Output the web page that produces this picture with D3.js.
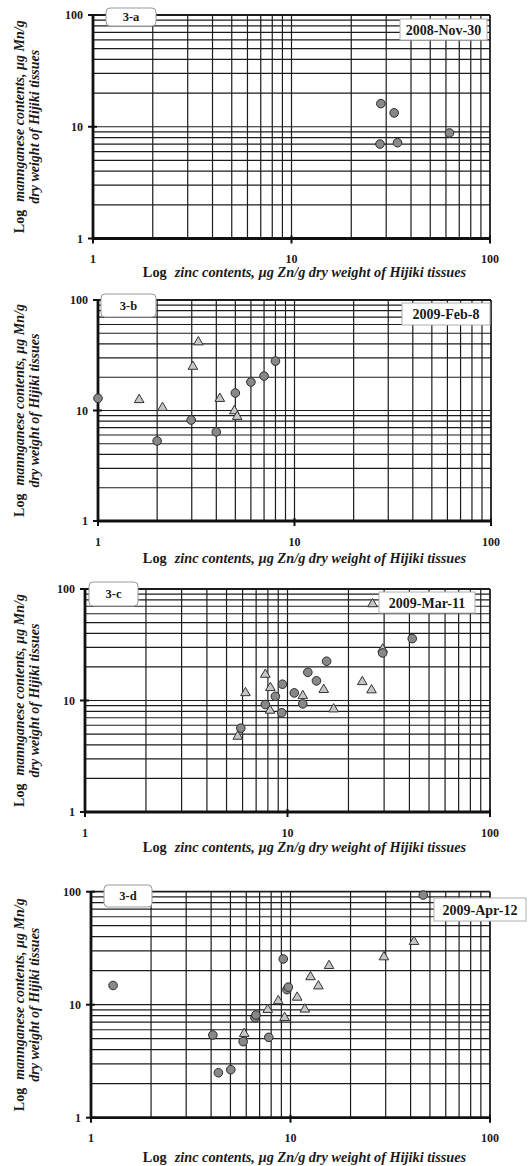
<!DOCTYPE html>
<html lang="en">
<head>
<meta charset="UTF-8">
<title>Hijiki Zn vs Mn</title>
<style>
  body { margin: 0; background: #fff; }
  text { font-family: "Liberation Serif", "Times New Roman", serif; font-weight: bold; }
</style>
</head>
<body>
<script src="https://cdn.jsdelivr.net/npm/d3@7"></script>
<script>
const panelNames = ["3-a", "3-b", "3-c", "3-d"];
const panelDates = ["2008-Nov-30", "2009-Feb-8", "2009-Mar-11", "2009-Apr-12"];
const tickValues = [1, 10, 100];

// circles: zinc (x) and manganese (y), ug/g dry weight
const circZnA = [28.2, 32.9, 27.9, 34.2, 62.5];
const circMnA = [16.1, 13.3, 7.0, 7.2, 8.8];
const triZnA = [];
const triMnA = [];

const circZnB = [1.0, 2.0, 2.98, 4.0, 5.0, 6.0, 7.0, 8.0];
const circMnB = [12.9, 5.3, 8.2, 6.4, 14.4, 18.1, 20.5, 28.0];
const triZnB = [1.62, 2.13, 3.04, 3.24, 4.17, 4.94, 5.11];
const triMnB = [12.5, 10.6, 25.0, 41.6, 12.8, 9.9, 8.8];

const circZnC = [5.88, 7.77, 8.71, 9.44, 9.37, 10.8, 11.9, 12.6, 13.9, 15.6, 29.5, 41.3];
const circMnC = [5.65, 9.2, 10.9, 14.0, 7.76, 11.7, 9.33, 17.9, 15.0, 22.5, 26.7, 35.9];
const triZnC = [5.68, 6.2, 7.77, 8.23, 8.2, 11.9, 15.1, 16.9, 23.4, 26.0, 29.5, 26.3];
const triMnC = [4.76, 11.7, 17.1, 13.0, 8.14, 11.0, 12.5, 8.37, 14.7, 12.4, 28.8, 73.4];

const circZnD = [1.29, 4.08, 4.35, 5.02, 5.79, 6.64, 6.71, 7.78, 9.2, 9.6, 9.75, 46.3];
const circMnD = [14.8, 5.39, 2.5, 2.66, 4.71, 7.67, 8.1, 5.14, 25.4, 13.6, 14.3, 93.4];
const triZnD = [5.86, 7.69, 8.68, 9.34, 10.8, 11.8, 12.6, 13.8, 15.6, 29.4, 41.6];
const triMnD = [5.54, 9.03, 10.8, 7.67, 11.6, 9.1, 17.6, 14.6, 22.1, 26.4, 36.1];

const circZn = [circZnA, circZnB, circZnC, circZnD];
const circMn = [circMnA, circMnB, circMnC, circMnD];
const triZn = [triZnA, triZnB, triZnC, triZnD];
const triMn = [triMnA, triMnB, triMnC, triMnD];

// frame of each panel on the page
const frames = [
    {x0: 93, x1: 490, y0: 15, y1: 238.5, titleY: 277, tag: [106, 8, 50, 18], date: [400, 19, 87, 21]},
    {x0: 98, x1: 491, y0: 300, y1: 521, titleY: 563, tag: [101, 294, 55, 23], date: [402, 303, 88, 22]},
    {x0: 85, x1: 490, y0: 589, y1: 812, titleY: 852, tag: [89, 582, 49, 24], date: [379, 592, 96, 21]},
    {x0: 91, x1: 490, y0: 891.7, y1: 1117.7, titleY: 1162, tag: [104, 885, 48, 22], date: [434, 898, 92, 23]}
];

const width = 529, height = 1166;

const svg = d3.select("body").append("svg")
    .attr("width", width)
    .attr("height", height)
    .style("background", "#fff");

frames.forEach((f, i) => drawPanel(f, i));

function drawPanel(f, i) {
    const x = d3.scaleLog().domain([1, 100]).range([f.x0, f.x1]);
    const y = d3.scaleLog().domain([1, 100]).range([f.y1, f.y0]);
    const g = svg.append("g");

    // grid
    g.append("g").selectAll("line")
        .data(x.ticks())
        .join("line")
        .attr("x1", d => x(d)).attr("x2", d => x(d))
        .attr("y1", f.y0).attr("y2", f.y1)
        .attr("stroke", "#1c1c1c")
        .attr("stroke-width", d => d === 100 ? 1.8 : 1.2);

    g.append("g").selectAll("line")
        .data(y.ticks())
        .join("line")
        .attr("y1", d => y(d)).attr("y2", d => y(d))
        .attr("x1", f.x0).attr("x2", f.x1)
        .attr("stroke", "#1c1c1c")
        .attr("stroke-width", d => d === 100 ? 1.8 : 1.2);

    // main axes
    g.append("line")
        .attr("x1", f.x0).attr("x2", f.x0).attr("y1", f.y0).attr("y2", f.y1 + 1)
        .attr("stroke", "#111").attr("stroke-width", 2.8);
    g.append("line")
        .attr("x1", f.x0 - 1).attr("x2", f.x1).attr("y1", f.y1).attr("y2", f.y1)
        .attr("stroke", "#111").attr("stroke-width", 2.8);

    // major ticks crossing the axes
    g.append("g").selectAll("line")
        .data(tickValues)
        .join("line")
        .attr("x1", f.x0 - 5).attr("x2", f.x0 + 4)
        .attr("y1", d => y(d)).attr("y2", d => y(d))
        .attr("stroke", "#111").attr("stroke-width", 2);
    g.append("g").selectAll("line")
        .data(tickValues)
        .join("line")
        .attr("x1", d => x(d)).attr("x2", d => x(d))
        .attr("y1", f.y1 - 3).attr("y2", f.y1 + 5)
        .attr("stroke", "#111").attr("stroke-width", 2);

    // tick labels
    g.append("g").selectAll("text")
        .data(tickValues)
        .join("text")
        .attr("x", f.x0 - 10)
        .attr("y", d => y(d))
        .attr("dy", "0.35em")
        .attr("text-anchor", "end")
        .attr("font-size", 12)
        .attr("fill", "#1a1a1a")
        .text(d => d);
    g.append("g").selectAll("text")
        .data(tickValues)
        .join("text")
        .attr("x", d => x(d))
        .attr("y", f.y1 + 24.5)
        .attr("text-anchor", "middle")
        .attr("font-size", 12)
        .attr("fill", "#1a1a1a")
        .text(d => d);

    // panel tag box
    g.append("rect")
        .attr("x", f.tag[0]).attr("y", f.tag[1])
        .attr("width", f.tag[2]).attr("height", f.tag[3])
        .attr("rx", 4)
        .attr("fill", "#fff").attr("stroke", "#9a9a9a").attr("stroke-width", 1);
    g.append("text")
        .attr("x", f.tag[0] + f.tag[2] / 2)
        .attr("y", f.tag[1] + f.tag[3] / 2)
        .attr("dy", "0.35em")
        .attr("text-anchor", "middle")
        .attr("font-size", 12.5)
        .attr("fill", "#1a1a1a")
        .text(panelNames[i]);

    // date box
    g.append("rect")
        .attr("x", f.date[0]).attr("y", f.date[1])
        .attr("width", f.date[2]).attr("height", f.date[3])
        .attr("fill", "#fff").attr("stroke", "#b0b0b0").attr("stroke-width", 1);
    g.append("text")
        .attr("x", f.date[0] + f.date[2] / 2)
        .attr("y", f.date[1] + f.date[3] / 2)
        .attr("dy", "0.36em")
        .attr("text-anchor", "middle")
        .attr("font-size", 14)
        .attr("fill", "#1a1a1a")
        .text(panelDates[i]);

    // triangles under circles
    const tri = d3.symbol().type(d3.symbolTriangle).size(40);
    g.append("g").selectAll("path")
        .data(triZn[i].map((v, k) => [v, triMn[i][k]]))
        .join("path")
        .attr("d", tri)
        .attr("transform", d => `translate(${x(d[0])},${y(d[1])})`)
        .attr("fill", "#c6c6c6")
        .attr("stroke", "#333")
        .attr("stroke-width", 1);

    g.append("g").selectAll("circle")
        .data(circZn[i].map((v, k) => [v, circMn[i][k]]))
        .join("circle")
        .attr("cx", d => x(d[0]))
        .attr("cy", d => y(d[1]))
        .attr("r", 4.3)
        .attr("fill", "#888")
        .attr("stroke", "#2b2b2b")
        .attr("stroke-width", 1);

    // axis titles
    const xt = g.append("text")
        .attr("x", 304.5)
        .attr("y", f.titleY)
        .attr("text-anchor", "middle")
        .attr("font-size", 14.3)
        .attr("fill", "#1a1a1a");
    xt.append("tspan").text("Log");
    xt.append("tspan").attr("dx", 8).attr("font-style", "italic")
        .text("zinc contents, µg Zn/g dry weight of Hijiki tissues");

    const cy = (f.y0 + f.y1) / 2;
    const yt = g.append("text")
        .attr("transform", `translate(23.5,${cy}) rotate(-90)`)
        .attr("text-anchor", "middle")
        .attr("font-size", 14)
        .attr("fill", "#1a1a1a");
    yt.append("tspan").text("Log");
    yt.append("tspan").attr("dx", 8).attr("font-style", "italic")
        .text("mannganese contents, µg Mn/g");
    g.append("text")
        .attr("transform", `translate(39,${cy}) rotate(-90)`)
        .attr("text-anchor", "middle")
        .attr("font-size", 14)
        .attr("font-style", "italic")
        .attr("fill", "#1a1a1a")
        .text("dry weight of Hijiki tissues");
}
</script>
</body>
</html>
